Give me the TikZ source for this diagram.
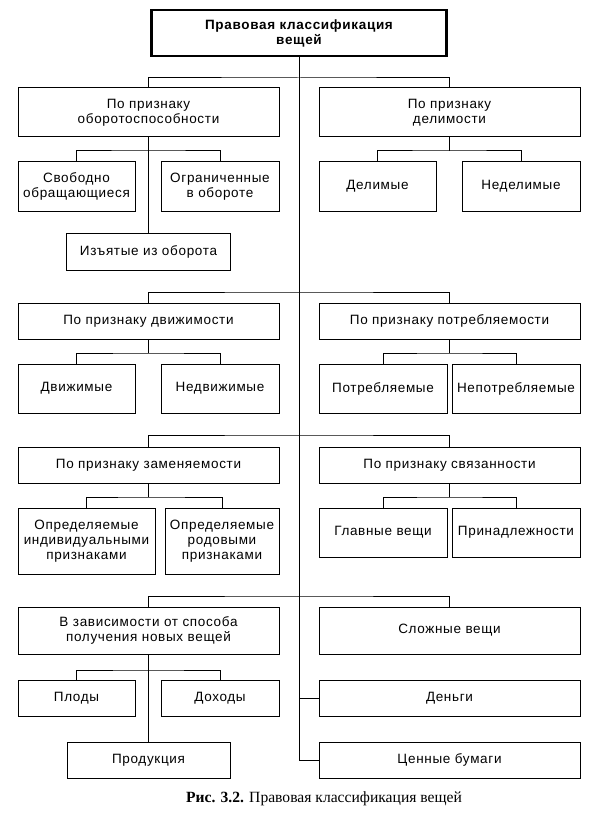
\documentclass[tikz,border=0pt]{standalone}
\usepackage{fontspec}
\setmainfont{Liberation Sans}[LetterSpace=5]
\newfontfamily\capfont{Liberation Serif}
\begin{document}
\begin{tikzpicture}[x=1pt,y=-1pt,
  bx/.style={draw, line width=1pt, align=center, inner sep=0pt,
    font=\fontsize{13.5}{15}\selectfont},
  topbx/.style={bx, line width=2.4pt, font=\bfseries\fontsize{13.5}{15}\selectfont},
  ln/.style={line width=1pt}]
\useasboundingbox (0,0) rectangle (595,829);
% title
\node[topbx, minimum width=295pt, minimum height=46pt] (top) at (299,33) {Правовая классификация\\вещей};
% row 1
\node[bx, minimum width=261pt, minimum height=49pt] (L1) at (148.5,112.5) {По признаку\\оборотоспособности};
\node[bx, minimum width=261pt, minimum height=49pt] (R1) at (449.5,112.5) {По признаку\\делимости};
\node[bx, minimum width=117pt, minimum height=49pt] (sv) at (76.5,186.5) {Свободно\\обращающиеся};
\node[bx, minimum width=118pt, minimum height=49pt] (og) at (220,186.5) {Ограниченные\\в обороте};
\node[bx, minimum width=164pt, minimum height=37pt] (iz) at (148.5,251.5) {Изъятые из оборота};
\node[bx, minimum width=117pt, minimum height=49pt] (del) at (377.5,186.5) {Делимые};
\node[bx, minimum width=118pt, minimum height=49pt] (ndel) at (521,186.5) {Неделимые};
% row 2
\node[bx, minimum width=261pt, minimum height=36pt] (L2) at (148.5,321) {По признаку движимости};
\node[bx, minimum width=261pt, minimum height=36pt] (R2) at (449.5,321) {По признаку потребляемости};
\node[bx, minimum width=117pt, minimum height=49pt] (dv) at (76.5,388.5) {Движимые};
\node[bx, minimum width=118pt, minimum height=49pt] (ndv) at (220,388.5) {Недвижимые};
\node[bx, minimum width=128pt, minimum height=49pt] (pt) at (383,388.5) {Потребляемые};
\node[bx, minimum width=128pt, minimum height=49pt] (npt) at (516,388.5) {Непотребляемые};
% row 3
\node[bx, minimum width=261pt, minimum height=36pt] (L3) at (148.5,465) {По признаку заменяемости};
\node[bx, minimum width=261pt, minimum height=36pt] (R3) at (449.5,465) {По признаку связанности};
\node[bx, minimum width=137pt, minimum height=66pt] (oi) at (86.5,541) {Определяемые\\индивидуальными\\признаками};
\node[bx, minimum width=114pt, minimum height=66pt] (orr) at (222,541) {Определяемые\\родовыми\\признаками};
\node[bx, minimum width=128pt, minimum height=49pt] (gv) at (383,532.5) {Главные вещи};
\node[bx, minimum width=128pt, minimum height=49pt] (pr) at (516,532.5) {Принадлежности};
% row 4
\node[bx, minimum width=261pt, minimum height=47pt] (L4) at (148.5,630.5) {В зависимости от способа\\получения новых вещей};
\node[bx, minimum width=261pt, minimum height=47pt] (R4) at (449.5,630.5) {Сложные вещи};
\node[bx, minimum width=117pt, minimum height=36pt] (pl) at (76.5,698) {Плоды};
\node[bx, minimum width=118pt, minimum height=36pt] (dx) at (220,698) {Доходы};
\node[bx, minimum width=163pt, minimum height=36pt] (pd) at (148.5,760) {Продукция};
\node[bx, minimum width=261pt, minimum height=36pt] (dn) at (449.5,698) {Деньги};
\node[bx, minimum width=261pt, minimum height=36pt] (cb) at (449.5,760) {Ценные бумаги};
% caption
\node[inner sep=0pt, anchor=base, font=\capfont\fontsize{15.6}{18}\selectfont] (cap) at (324,802) {\textbf{Рис. 3.2.} Правовая классификация вещей};
% bus coordinates
\coordinate (b1) at (299,78);
\coordinate (b1L) at (148.5,151);
\coordinate (b1R) at (449.5,151);
\coordinate (b2) at (299,292);
\coordinate (b2L) at (148.5,353);
\coordinate (b2R) at (449.5,353);
\coordinate (b3) at (299,435);
\coordinate (b3L) at (148.5,497);
\coordinate (b3R) at (449.5,497);
\coordinate (b4) at (299,596);
\coordinate (b4L) at (148.5,670);
% trunk
\draw[ln] (top.south) -- (top.south |- cb.west) -- (cb.west);
\draw[ln] (dn.west) -- (dn.west -| top.south);
% main buses
\draw[ln] (L1.north) |- (b1) -| (R1.north);
\draw[ln] (L2.north) |- (b2) -| (R2.north);
\draw[ln] (L3.north) |- (b3) -| (R3.north);
\draw[ln] (L4.north) |- (b4) -| (R4.north);
% sub buses
\draw[ln] (sv.north) |- (b1L) -| (og.north);
\draw[ln] (L1.south) -- (iz.north);
\draw[ln] (del.north) |- (b1R) -| (ndel.north);
\draw[ln] (R1.south) -- (b1R);
\draw[ln] (dv.north) |- (b2L) -| (ndv.north);
\draw[ln] (L2.south) -- (b2L);
\draw[ln] (pt.north) |- (b2R) -| (npt.north);
\draw[ln] (R2.south) -- (b2R);
\draw[ln] (oi.north) |- (b3L) -| (orr.north);
\draw[ln] (L3.south) -- (b3L);
\draw[ln] (gv.north) |- (b3R) -| (pr.north);
\draw[ln] (R3.south) -- (b3R);
\draw[ln] (pl.north) |- (b4L) -| (dx.north);
\draw[ln] (L4.south) -- (pd.north);
\end{tikzpicture}
\end{document}
